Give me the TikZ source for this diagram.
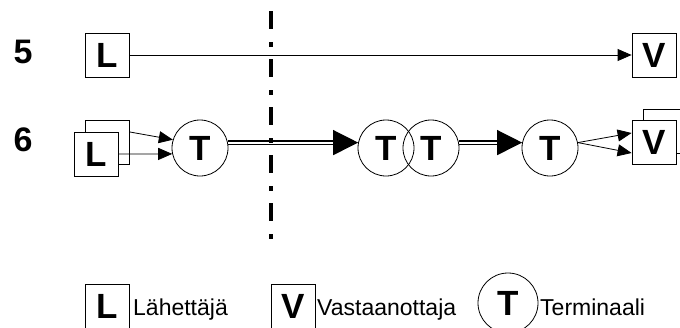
\documentclass[tikz,border=0pt]{standalone}
\usepackage{fontspec}
\setmainfont{Liberation Sans}
\usetikzlibrary{arrows.meta, positioning}

\begin{document}
\begin{tikzpicture}[x=1pt, y=-1pt,
		box/.style={draw, fill=white, line width=0.8pt, minimum size=44pt, inner sep=0pt, font=\fontsize{35}{35}\selectfont\bfseries},
		term/.style={draw, circle, line width=0.8pt, minimum size=56pt, inner sep=0pt, font=\fontsize{35}{35}\selectfont\bfseries},
		num/.style={font=\fontsize{34}{34}\selectfont\bfseries},
		legtext/.style={font=\fontsize{23}{23}\selectfont, anchor=base west, inner sep=0pt},
		onearrow/.style={line width=0.8pt, -{Triangle[length=14pt,width=12pt]}},
		dbl/.style={double, line width=1.3pt, double distance=1.9pt, -{Triangle[length=25pt,width=25pt]}},
		cut/.style={line width=4.5pt, dash pattern=on 18pt off 13pt on 5pt off 12pt}]
		\useasboundingbox (0,0) rectangle (680,327);
		
		% Row 5
		\node[num] (n5) at (23,52) {5};
		\node[box] (l5) at (107.5,55) {L};
		\node[box] (v5) at (654,55) {V};
		\draw[onearrow] (l5) -- (v5);
		
		% Row 6
		\node[num] (n6) at (23,140) {6};
		\node[box] (l6b) at (107.5,142.5) {};
		\node[box] (l6) at (96,154) {L};
		\node[term] (t1) at (200,148) {T};
		\node[term] (t2) at (386,148) {T};
		\node[term] (t3) at (431,148) {T};
		\node[term] (t4) at (550,148) {T};
		\node[box] (v6b) at (665,131) {};
		\node[box] (v6) at (654,142) {V};
		
		\draw[onearrow] ([yshift=10.5pt]l6b.east) -- (t1.163);
		\draw[onearrow] (l6.east) -- (t1.192);
		\draw[dbl] (t1.11) -- (t2.169);
		\draw[dbl] (t3.11) -- (t4.169);
		\draw[onearrow] (t4.11) -- ([yshift=9pt]v6.west);
		\draw[onearrow] (t4.11) -- ([yshift=-11pt]v6.west);
		
		% Cut line
		\coordinate (cuttop) at (271,11);
		\coordinate (cutbot) at (271,240);
		\draw[cut] (cuttop) -- (cutbot);
		
		% Legend
		\node[box] (keyl) at (107.5,306) {L};
		\node[legtext] (keyltext) at (133,315) {Lähettäjä};
		\node[box] (keyv) at (293,306) {V};
		\node[legtext] (keyvtext) at (317,315) {Vastaanottaja};
		\node[term, minimum size=60pt] (keyt) at (508,303) {T};
		\node[legtext] (keyttext) at (540,315) {Terminaali};
	\end{tikzpicture}
\end{document}
